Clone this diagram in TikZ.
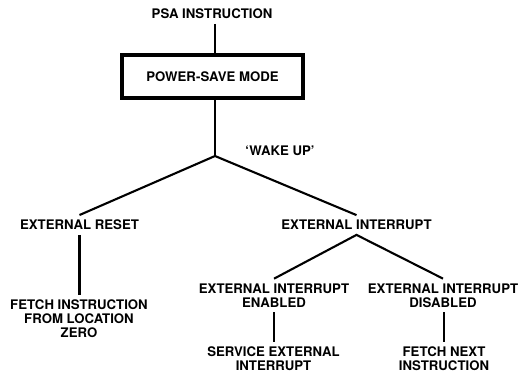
\documentclass[tikz,border=0pt]{standalone}
\usepackage{fontspec}
\setmainfont{TeX Gyre Heros}
\begin{document}
\begin{tikzpicture}[x=1pt,y=-1pt,
  lbl/.style={inner sep=0pt,outer sep=5pt,align=center,
    font=\bfseries\fontsize{13.2}{14}\selectfont},
  conn/.style={line width=2.1pt},
  modebox/.style={draw,line width=3.8pt,inner sep=0pt,outer sep=0pt,
    minimum width=181.2pt,minimum height=43.2pt,
    font=\bfseries\fontsize{13.2}{14}\selectfont}]
\useasboundingbox (0,0) rectangle (519,375);
\node[lbl] (psa) at (212,14) {PSA INSTRUCTION};
\node[modebox] (box) at (212.5,76.5) {POWER-SAVE MODE};
\coordinate (j1) at (215,156);
\node[lbl] (wake) at (280,151) {‘WAKE UP’};
\node[lbl] (er) at (79.5,225) {EXTERNAL RESET};
\node[lbl] (ei) at (356.5,225) {EXTERNAL INTERRUPT};
\node[lbl] (fetch) at (79,319) {FETCH INSTRUCTION\\FROM LOCATION\\ZERO};
\node[lbl] (en) at (274,295.5) {EXTERNAL INTERRUPT\\ENABLED};
\node[lbl] (dis) at (443,295.5) {EXTERNAL INTERRUPT\\DISABLED};
\node[lbl] (svc) at (273.5,358.5) {SERVICE EXTERNAL\\INTERRUPT};
\node[lbl] (fn) at (444,358.5) {FETCH NEXT\\INSTRUCTION};
\draw[conn] (psa.south -| j1) -- (box.north -| j1);
\draw[conn] (box.south -| j1) -- (j1);
\draw[conn] (er.north) -- (j1) -- (ei.north);
\draw[conn] (er.south) -- (er.south |- fetch.north);
\draw[conn] (en.north) -- (ei.south) -- (dis.north);
\draw[conn] (en.south) -- (en.south |- svc.north);
\draw[conn] (fn.north |- dis.south) -- (fn.north);
\end{tikzpicture}
\end{document}
